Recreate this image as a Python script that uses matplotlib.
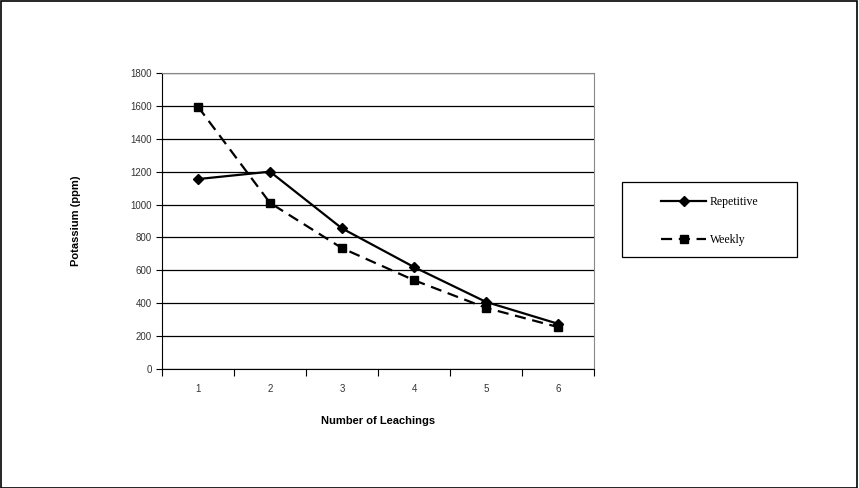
import matplotlib.pyplot as plt
import numpy as np
from matplotlib.patches import Rectangle

leachings = [1, 2, 3, 4, 5, 6]
repetitive = [1155, 1200, 855, 620, 408, 275]
weekly = [1595, 1010, 735, 540, 372, 255]
y_ticks = [0, 200, 400, 600, 800, 1000, 1200, 1400, 1600, 1800]

fig = plt.figure(figsize=(8.59, 4.88), dpi=100)
ax = fig.add_axes([162 / 859, 1 - 369 / 488, 432 / 859, 296 / 488])

ax.plot(leachings, repetitive, color='k', ls='-', lw=1.6, marker='D', ms=5, label='Repetitive')
ax.plot(leachings, weekly, color='k', ls=(0, (5, 3)), lw=1.6, marker='s', ms=6, label='Weekly')

ax.set_xlim(0.5, 6.5)
ax.set_ylim(0, 1800)
ax.set_yticks(y_ticks)
ax.set_yticklabels([str(v) for v in y_ticks], fontsize=7, family='Liberation Sans', color='#333333')
ax.yaxis.grid(True, color='k', lw=0.9)
ax.set_axisbelow(True)

# category boundaries get tick marks, labels sit at category centers
ax.set_xticks(np.arange(0.5, 7.0, 1.0))
ax.set_xticklabels([])
ax.set_xticks(leachings, minor=True)
ax.set_xticklabels([str(v) for v in leachings], minor=True, fontsize=7,
                   family='Liberation Sans', color='#333333')
ax.tick_params(axis='x', which='major', direction='out', length=5, width=0.8)
ax.tick_params(axis='x', which='minor', length=0, pad=11)
ax.tick_params(axis='y', direction='out', length=4, width=0.8)

ax.spines['left'].set_color('k')
ax.spines['bottom'].set_color('k')
ax.spines['top'].set_color('#888888')
ax.spines['right'].set_color('#888888')

ax.set_xlabel('Number of Leachings', fontsize=8, fontweight='bold', family='Liberation Sans', labelpad=16)
ax.set_ylabel('Potassium (ppm)', fontsize=8, fontweight='bold', family='Liberation Sans', labelpad=35)

leg = fig.legend(loc='center', bbox_to_anchor=(710 / 859, 1 - 221 / 488),
                 prop={'family': 'Liberation Serif', 'size': 8.5}, frameon=False,
                 labelspacing=2.2, handlelength=3.8, borderaxespad=0, handletextpad=0.3)

fig.patches.append(Rectangle((622 / 859, 1 - 257 / 488), 175 / 859, 75 / 488,
                             transform=fig.transFigure, fill=False, edgecolor='k', lw=0.9))
fig.patches.append(Rectangle((0.001, 0.001), 0.997, 0.997, transform=fig.transFigure,
                             fill=False, edgecolor='k', lw=1.2))

fig.savefig('out.png', dpi=100)
